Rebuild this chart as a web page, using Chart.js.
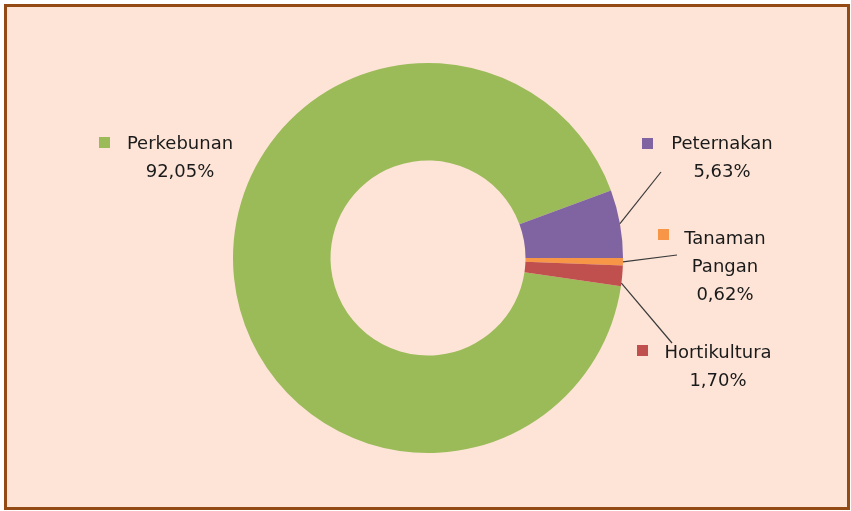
<!DOCTYPE html>
<html><head><meta charset="utf-8">
<script src="https://cdn.jsdelivr.net/npm/chart.js@4/dist/chart.umd.min.js"></script>
<style>html,body{margin:0;padding:0;background:#fff}#wrap{width:851px;height:511px;position:relative}</style>
</head><body><div id="wrap"><canvas id="c" width="851" height="511"></canvas></div>
<script>
const categories = ['Perkebunan', 'Peternakan', 'Tanaman Pangan', 'Hortikultura'];
const values = [92.05, 5.63, 0.62, 1.70];
const valueLabels = ['92,05%', '5,63%', '0,62%', '1,70%'];
const nameLines = [['Perkebunan'], ['Peternakan'], ['Tanaman', 'Pangan'], ['Hortikultura']];
const colors = ['#9BBB59', '#8064A2', '#F79646', '#C0504D'];

// label layout (positions only)
const labelLayout = [
  {marker: [99, 137], cx: 180, y: 144, line: null},
  {marker: [642, 138], cx: 722, y: 144, line: {frac: 0.5, end: [661, 172]}},
  {marker: [658, 229], cx: 725, y: 239, line: {frac: 0.5, end: [677, 255]}},
  {marker: [637, 345], cx: 718, y: 353, line: {frac: 0.85, end: [672, 343]}}
];
const FONT = '18px "DejaVu Sans"';
const LINE_H = 28;

const frame = {
  id: 'frame',
  beforeDraw(chart) {
    const ctx = chart.ctx;
    ctx.save();
    ctx.fillStyle = '#ffffff';
    ctx.fillRect(0, 0, chart.width, chart.height);
    ctx.fillStyle = '#FDE4D7';
    ctx.fillRect(5, 5, 844, 504);
    ctx.strokeStyle = '#934A14';
    ctx.lineWidth = 3;
    ctx.strokeRect(5.5, 5.5, 843, 503);
    ctx.restore();
  }
};

const labels = {
  id: 'labels',
  afterDatasetsDraw(chart) {
    const ctx = chart.ctx;
    const meta = chart.getDatasetMeta(0);
    ctx.save();
    meta.data.forEach((arc, i) => {
      const L = labelLayout[i];
      const p = arc.getProps(['x', 'y', 'startAngle', 'endAngle', 'outerRadius'], true);
      if (L.line) {
        const a = p.startAngle + L.line.frac * (p.endAngle - p.startAngle);
        ctx.beginPath();
        ctx.moveTo(p.x + Math.cos(a) * p.outerRadius, p.y + Math.sin(a) * p.outerRadius);
        ctx.lineTo(L.line.end[0], L.line.end[1]);
        ctx.strokeStyle = '#3a3a3a';
        ctx.lineWidth = 1.2;
        ctx.stroke();
      }
      ctx.fillStyle = colors[i];
      ctx.fillRect(L.marker[0], L.marker[1], 11, 11);
      ctx.fillStyle = '#1a1a1a';
      ctx.font = FONT;
      ctx.textAlign = 'center';
      ctx.textBaseline = 'middle';
      const lines = nameLines[i].concat([valueLabels[i]]);
      lines.forEach((t, k) => ctx.fillText(t, L.cx, L.y + k * LINE_H));
    });
    ctx.restore();
  }
};

const rotation = 90 + (values[2] + values[3]) / values.reduce((a, b) => a + b, 0) * 360;

new Chart(document.getElementById('c'), {
  type: 'doughnut',
  data: {
    labels: categories,
    datasets: [{
      data: values,
      backgroundColor: colors,
      borderWidth: 0,
      hoverOffset: 0
    }]
  },
  options: {
    responsive: false,
    animation: false,
    cutout: '50%',
    rotation: rotation,
    layout: {padding: {left: 233, right: 228, top: 63, bottom: 58}},
    plugins: {legend: {display: false}, tooltip: {enabled: false}}
  },
  plugins: [frame, labels]
});
</script></body></html>
